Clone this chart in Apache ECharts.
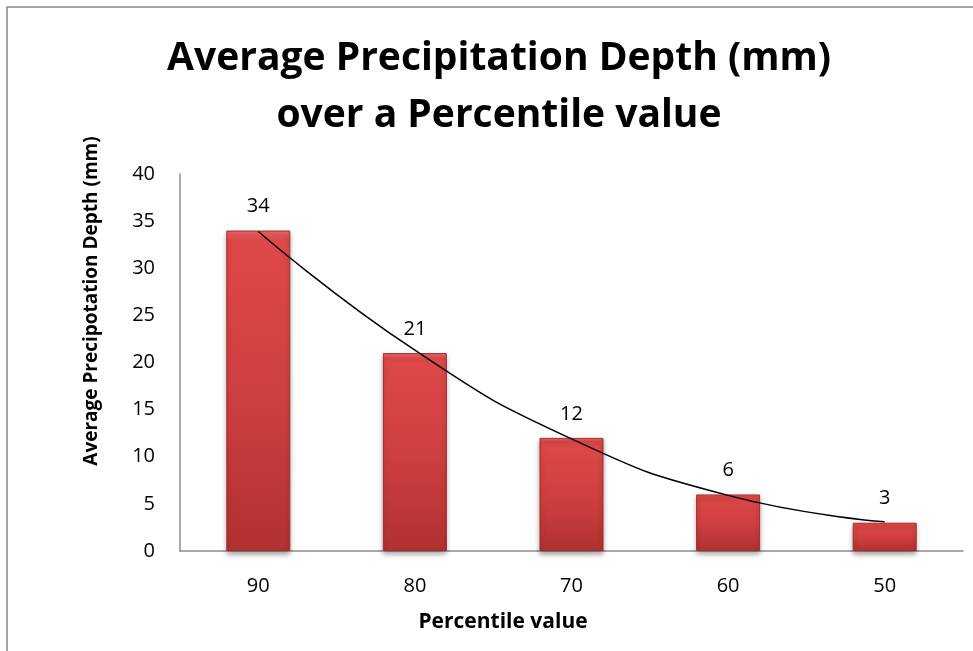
<!DOCTYPE html>
<html>
<head>
<meta charset="utf-8">
<script src="https://cdn.jsdelivr.net/npm/echarts@6/dist/echarts.min.js"></script>
<style>html,body{margin:0;padding:0;background:#fff;}#chart{width:973px;height:651px;}</style>
</head>
<body>
<div id="chart"></div>
<script>
var categories = ['90', '80', '70', '60', '50'];
var depthValues = [34, 21, 12, 6, 3];
var trendValues = [33.9, 21.3, 11.9, 5.9, 3.1];
var yTicks = { min: 0, max: 40, interval: 5 };
var titleText = 'Average Precipitation Depth (mm)\nover a Percentile value';
var yAxisName = 'Average Precipotation Depth (mm)';
var xAxisName = 'Percentile value';

var FONT = 'Open Sans';
var chart = echarts.init(document.getElementById('chart'), null, { renderer: 'canvas' });
chart.setOption({
  animation: false,
  backgroundColor: '#fff',
  title: {
    text: titleText,
    left: 494,
    top: 25,
    textAlign: 'center',
    textStyle: { fontFamily: FONT, fontWeight: 'bold', fontSize: 39, lineHeight: 57, color: '#000' }
  },
  grid: { left: 180, right: 10, top: 174, bottom: 100 },
  xAxis: {
    type: 'category',
    data: categories,
    axisLine: { lineStyle: { color: '#8c8c8c', width: 1.5 } },
    axisTick: { show: false },
    axisLabel: { fontFamily: FONT, fontSize: 20, color: '#000', margin: 25 },
    splitLine: { show: false }
  },
  yAxis: {
    type: 'value',
    min: yTicks.min, max: yTicks.max, interval: yTicks.interval,
    axisLine: { show: true, lineStyle: { color: '#8c8c8c', width: 1.5 } },
    axisTick: { show: false },
    axisLabel: { fontFamily: FONT, fontSize: 20, color: '#000', margin: 25 },
    splitLine: { show: false }
  },
  graphic: [
    { type: 'rect', shape: { x: 7, y: 7, width: 1000, height: 700 }, style: { fill: 'none', stroke: '#888', lineWidth: 1.5 }, silent: true },
    { type: 'text', x: 92, y: 301, rotation: Math.PI / 2,
      style: { text: yAxisName, fontFamily: FONT, fontWeight: 'bold', fontSize: 19, fill: '#000', align: 'center', verticalAlign: 'middle' } },
    { type: 'text', x: 503, y: 622,
      style: { text: xAxisName, fontFamily: FONT, fontWeight: 'bold', fontSize: 21, fill: '#000', align: 'center', verticalAlign: 'middle' } }
  ],
  series: [
    {
      type: 'bar',
      data: depthValues,
      barWidth: 64,
      itemStyle: {
        color: new echarts.graphic.LinearGradient(0, 0, 0, 1, [
          { offset: 0, color: '#f06a6a' },
          { offset: 0.03, color: '#de4848' },
          { offset: 0.5, color: '#d04040' },
          { offset: 1, color: '#b13131' }
        ]),
        borderColor: '#a62d2d',
        borderWidth: 1,
        shadowColor: 'rgba(0,0,0,0.35)',
        shadowBlur: 5,
        shadowOffsetY: 3
      },
      label: { show: true, position: 'top', distance: 14, fontFamily: FONT, fontSize: 20, color: '#000' }
    },
    {
      type: 'line',
      data: trendValues,
      smooth: true,
      symbol: 'none',
      silent: true,
      lineStyle: { color: '#000', width: 1.5 },
      z: 5
    }
  ]
});
</script>
</body>
</html>
